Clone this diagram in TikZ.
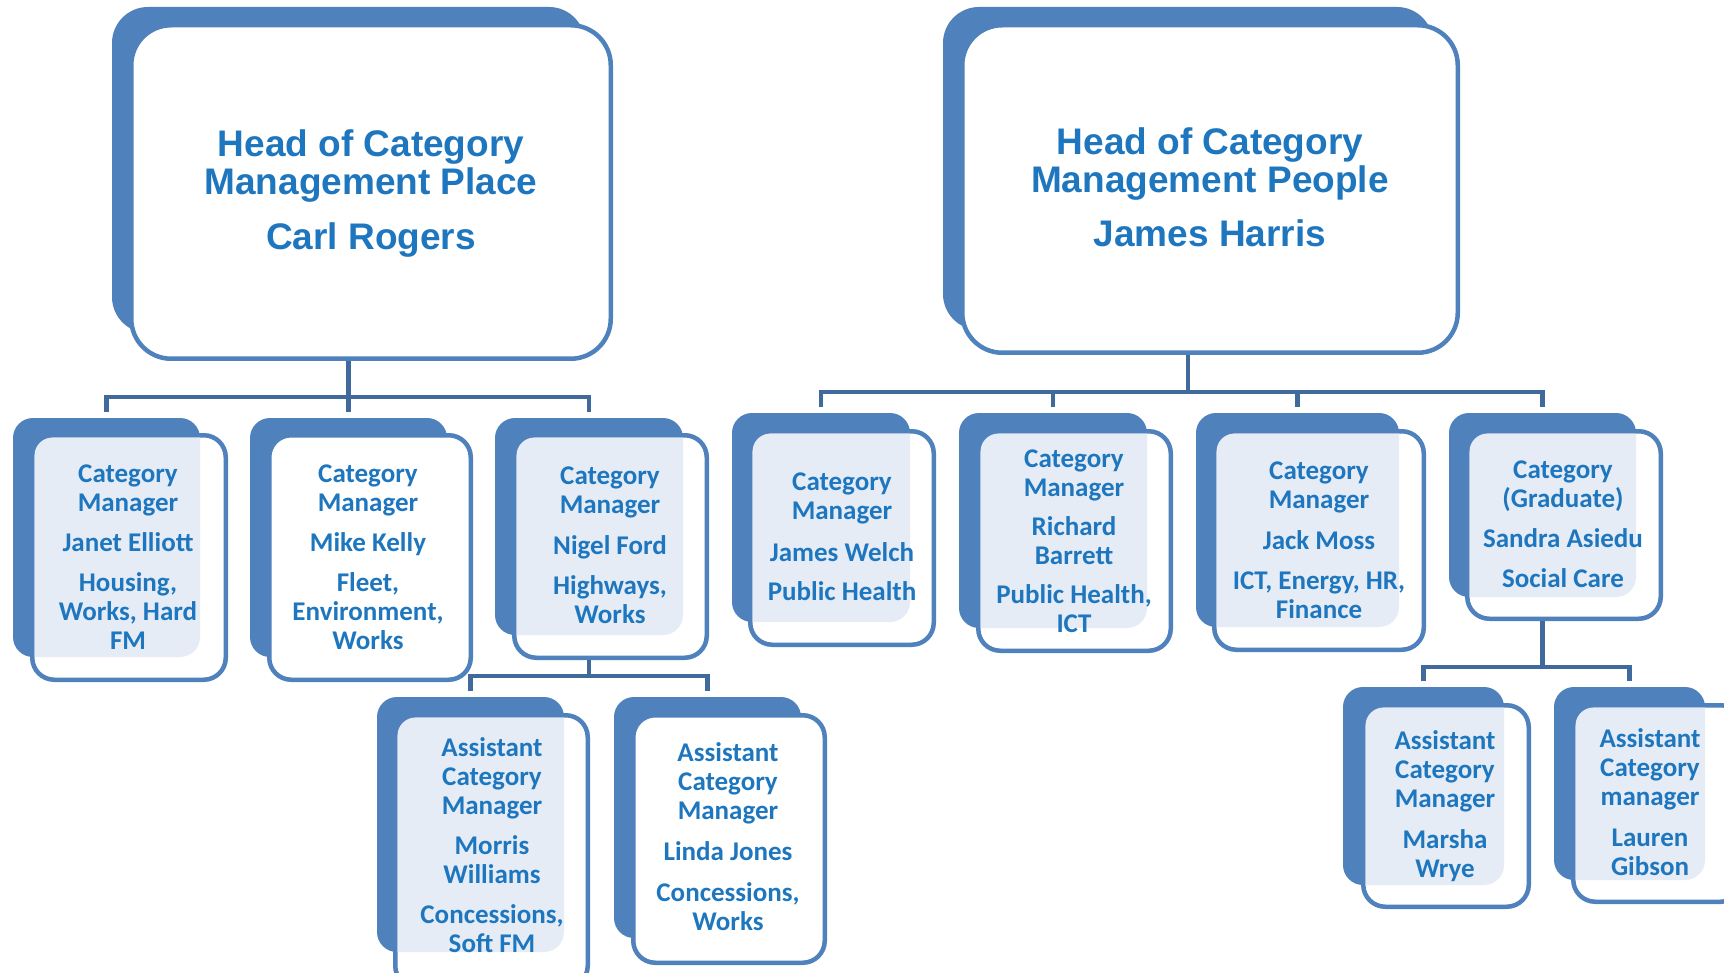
\documentclass[tikz,border=0pt]{standalone}
\usepackage{fontspec}
\newfontfamily\headfont{Liberation Sans}
\newfontfamily\bodyfont{Carlito}
\usetikzlibrary{calc}
\definecolor{backblue}{RGB}{79,129,189}
\definecolor{txtblue}{RGB}{30,119,190}
\definecolor{connblue}{RGB}{64,106,155}
\definecolor{dotblue}{RGB}{229,236,246}
\tikzset{
  backbox/.style={fill=backblue, draw=none, rounded corners=20pt, inner sep=0pt, outer sep=0pt},
  frontbox/.style={fill=white, draw=backblue, line width=4.5pt, rounded corners=22pt, inner sep=0pt},
  dotfill/.style={fill=dotblue, rounded corners=20pt},
  conn/.style={draw=connblue, line width=4.5pt, line join=miter},
  headtext/.style={text=txtblue, font=\headfont\bfseries\fontsize{37}{38}\selectfont, align=center, anchor=base, inner sep=0pt},
  bodytext/.style={text=txtblue, font=\bodyfont\bfseries\fontsize{27}{29}\selectfont, align=center, anchor=base, inner sep=0pt},
}
\newcommand\orgbox[9]{%
  \pgfmathsetmacro\obcx{(#2+#4)/2}%
  \pgfmathsetmacro\obcy{(#3+#5)/2}%
  \pgfmathsetmacro\obw{#4-#2}%
  \pgfmathsetmacro\obh{#5-#3}%
  \node[backbox, minimum width=\obw pt, minimum height=\obh pt] (#1b) at (\obcx,\obcy) {};
  \pgfmathsetmacro\ofcx{(#6+#8)/2}%
  \pgfmathsetmacro\ofcy{(#7+#9)/2}%
  \pgfmathsetmacro\ofw{#8-#6-4.5}%
  \pgfmathsetmacro\ofh{#9-#7-4.5}%
  \node[frontbox, minimum width=\ofw pt, minimum height=\ofh pt] (#1) at (\ofcx,\ofcy) {};
}
\newcommand\orgdots[1]{%
  \begin{scope}
    \clip[rounded corners=18pt] ([shift={(4.5pt,-4.5pt)}]#1.north west) rectangle ([shift={(-4.5pt,4.5pt)}]#1.south east);
    \fill[dotfill] (#1b.north west) rectangle (#1b.south east);
  \end{scope}}
\begin{document}
\begin{tikzpicture}[x=1pt,y=-1pt]
\useasboundingbox (0,0) rectangle (1724,973);
\fill[white] (0,0) rectangle (1724,973);
\clip (0,0) rectangle (1724,973);

% head boxes
\begin{scope}
\tikzset{backbox/.append style={rounded corners=36pt}, frontbox/.append style={rounded corners=40pt}}
\orgbox{lh}{112}{7}{585}{333}{129}{23}{613}{361}
\orgbox{rh}{943}{7}{1433}{330}{960}{23}{1460}{355}
\end{scope}
% text nodes are anchored at the baseline of their last line
\node[headtext] (lht) at (371,250) {Head of Category\\Management Place\\[17pt]Carl Rogers};
\node[headtext] (rht) at (1210,247) {Head of Category\\Management People\\[16pt]James Harris};

% left branch
\orgbox{janet}{13}{418}{200}{657}{30}{433}{228}{682}
\orgdots{janet}
\orgbox{mike}{250}{418}{447}{657}{267}{433}{473}{682}
\orgbox{nigel}{495}{418}{683}{635}{512}{433}{709}{660}
\orgdots{nigel}
\orgbox{morris}{377}{697}{564}{952}{393}{713}{590}{990}
\orgdots{morris}
\orgbox{linda}{614}{697}{801}{938}{631}{713}{827}{965}

% right branch
\orgbox{jw}{732}{413}{910}{622}{748}{429}{936}{647}
\orgdots{jw}
\orgbox{rich}{959}{413}{1147}{628}{976}{429}{1173}{653}
\orgdots{rich}
\orgbox{jack}{1196}{413}{1399}{627}{1212}{429}{1426}{652}
\orgdots{jack}
\orgbox{sandra}{1449}{413}{1636}{597}{1465}{429}{1663}{621}
\orgdots{sandra}
\orgbox{marsha}{1343}{687}{1504}{885}{1361}{703}{1531}{909}
\orgdots{marsha}
\orgbox{lauren}{1554}{687}{1705}{880}{1571}{703}{1745}{904}
\orgdots{lauren}

% texts
\node[bodytext] (janett) at (128,649) {Category\\Manager\\[11pt]Janet Elliott\\[11pt]Housing,\\Works, Hard\\FM};
\node[bodytext] (miket) at (368,649) {Category\\Manager\\[11pt]Mike Kelly\\[11pt]Fleet,\\Environment,\\Works};
\node[bodytext] (nigelt) at (610,623) {Category\\Manager\\[12pt]Nigel Ford\\[11pt]Highways,\\Works};
\node[bodytext] (morrist) at (492,952) {Assistant\\Category\\Manager\\[11pt]Morris\\Williams\\[11pt]Concessions,\\Soft FM};
\node[bodytext] (lindat) at (728,930) {Assistant\\Category\\Manager\\[12pt]Linda Jones\\[12pt]Concessions,\\Works};
\node[bodytext] (jwt) at (842,600) {Category\\Manager\\[13pt]James Welch\\[10pt]Public Health};
\node[bodytext] (richt) at (1074,632) {Category\\Manager\\[10pt]Richard\\Barrett\\[10pt]Public Health,\\ICT};
\node[bodytext] (jackt) at (1319,618) {Category\\Manager\\[12pt]Jack Moss\\[11pt]ICT, Energy, HR,\\Finance};
\node[bodytext] (sandrat) at (1563,587) {Category\\(Graduate)\\[11pt]Sandra Asiedu\\[11pt]Social Care};
\node[bodytext] (marshat) at (1445,877) {Assistant\\Category\\Manager\\[12pt]Marsha\\Wrye};
\node[bodytext] (laurent) at (1650,875) {Assistant\\Category\\manager\\[12pt]Lauren\\Gibson};

% connectors: left head
\coordinate (busL) at (0,397);
\draw[conn] (lhb.center |- lh.south) -- (lhb.center |- busL);
\draw[conn, shorten <=6pt, shorten >=6pt] (janetb.north) -- (janetb.north |- busL) -- (nigelb.north |- busL) -- (nigelb.north);
\draw[conn, shorten >=6pt] (mikeb.north |- busL) -- (mikeb.north);

% connectors: Nigel
\coordinate (busN) at (0,676);
\draw[conn] (nigelb.center |- nigel.south) -- (nigelb.center |- busN);
\draw[conn, shorten <=6pt, shorten >=6pt] (morrisb.north) -- (morrisb.north |- busN) -- (lindab.north |- busN) -- (lindab.north);

% connectors: right head
\coordinate (busR) at (0,392);
\draw[conn] (rhb.center |- rh.south) -- (rhb.center |- busR);
\draw[conn, shorten <=6pt, shorten >=6pt] (jwb.north) -- (jwb.north |- busR) -- (sandrab.north |- busR) -- (sandrab.north);
\draw[conn, shorten >=6pt] (richb.north |- busR) -- (richb.north);
\draw[conn, shorten >=6pt] (jackb.north |- busR) -- (jackb.north);

% connectors: Sandra
\coordinate (busS) at (0,667);
\draw[conn] (sandrab.center |- sandra.south) -- (sandrab.center |- busS);
\draw[conn, shorten <=6pt, shorten >=6pt] (marshab.north) -- (marshab.north |- busS) -- (laurenb.north |- busS) -- (laurenb.north);
\end{tikzpicture}
\end{document}
